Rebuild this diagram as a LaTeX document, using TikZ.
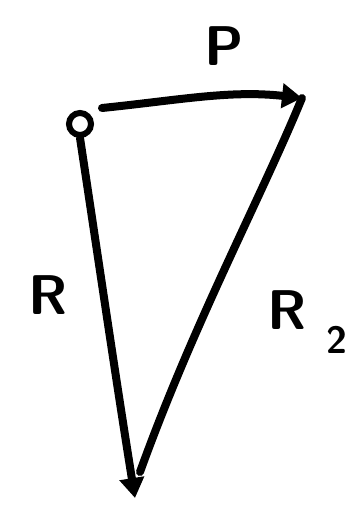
\documentclass[tikz,border=0pt]{standalone}
\usetikzlibrary{arrows.meta}
\begin{document}
\begin{tikzpicture}[x=1pt,y=-1pt,
  stroke/.style={line width=8pt,line cap=round,line join=round,black},
  vec/.style={stroke,-{Triangle[length=20pt,width=24pt]}},
  lab/.style={font=\sffamily\bfseries\fontsize{56}{56}\selectfont,inner sep=0pt}]
\useasboundingbox (0,0) rectangle (360,514);
\node[draw,circle,line width=6pt,minimum size=22pt,inner sep=0pt] (o) at (80,124) {};
\coordinate (a) at (302,98);
\coordinate (b) at (135,498);
\draw[vec] (102,108) .. controls (180,100) and (230,90) .. (a);
\draw[vec] (o.south) .. controls (97,250) and (116,380) .. (b);
\draw[stroke] (a) .. controls (260,200) and (195,320) .. (140,472);
\node[lab] (P) at (224,46) {P};
\node[lab] (R) at (48,295) {R};
\node[lab] (R2) at (287,310) {R};
\node[lab,font=\sffamily\bfseries\fontsize{38}{38}\selectfont] (two) at (337,340) {2};
\end{tikzpicture}
\end{document}
